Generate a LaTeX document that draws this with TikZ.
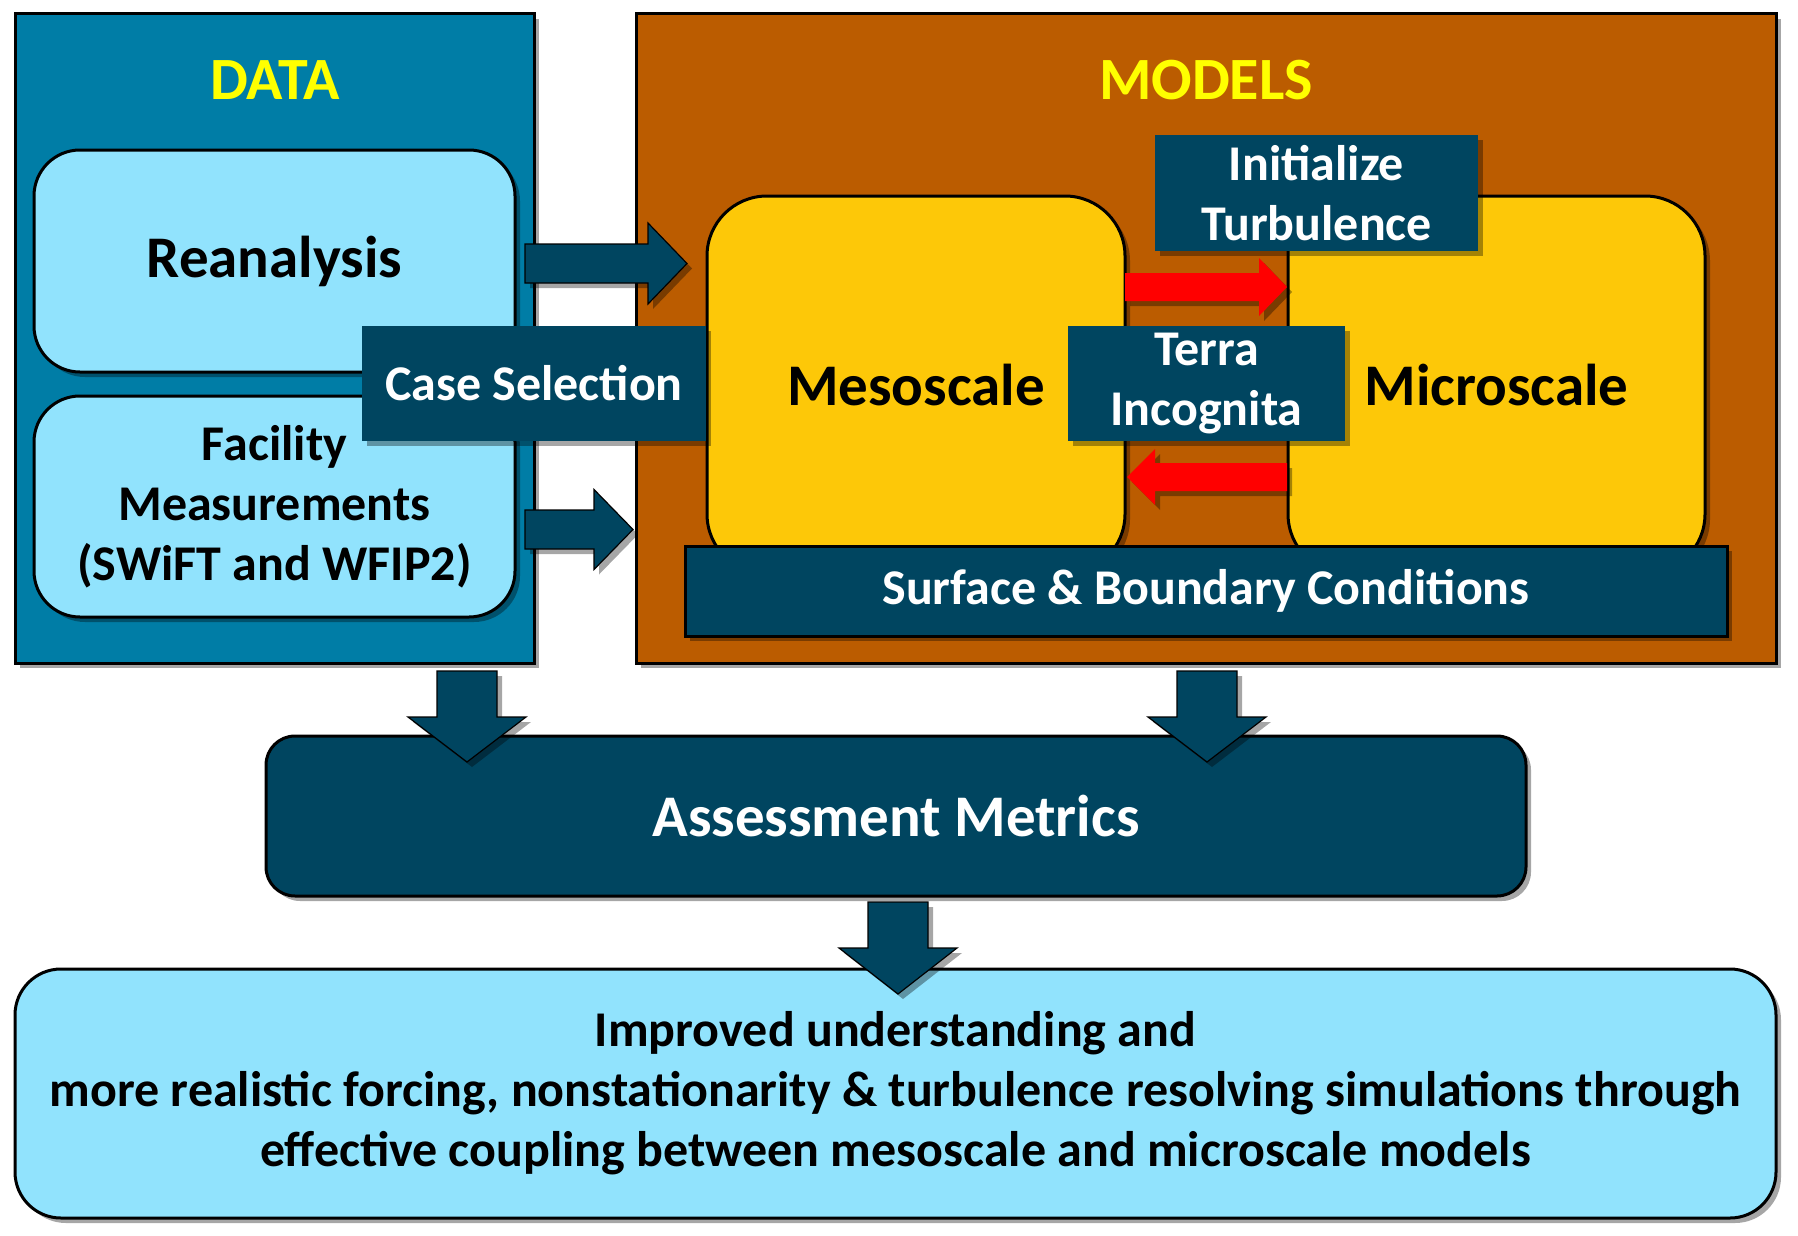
\documentclass[tikz,border=0pt]{standalone}
\usepackage{fontspec}
\setmainfont{Carlito}
\usepackage{tikz}
\usetikzlibrary{positioning,calc,shadows}

\definecolor{datablue}{RGB}{0,125,166}
\definecolor{modelorange}{RGB}{187,92,0}
\definecolor{skycyan}{RGB}{145,227,253}
\definecolor{darknavy}{RGB}{0,69,96}
\definecolor{scaleyellow}{RGB}{253,200,8}
\definecolor{titleyellow}{RGB}{255,255,0}
\definecolor{flowred}{RGB}{255,0,0}

\newcommand{\bigtxt}{\fontsize{59}{70}\selectfont}
\newcommand{\midtxt}{\fontsize{50}{60}\selectfont}
\newcommand{\titletxt}{\fontsize{60}{70}\selectfont}

\tikzset{
  softshadow/.style={drop shadow={shadow xshift=5pt, shadow yshift=-5pt, opacity=0.35, fill=black}},
  panel/.style={draw=black, line width=3pt, inner sep=0pt, softshadow},
  softbox/.style={panel, fill=skycyan, rounded corners=46pt, align=center, font=\bfseries\midtxt},
  scalebox/.style={panel, fill=scaleyellow, rounded corners=60pt, font=\bfseries\bigtxt},
  darkbox/.style={fill=darknavy, text=white, inner sep=0pt, align=center, font=\bfseries\midtxt, softshadow},
  navyarrow/.style={fill=darknavy, draw=black, line width=1.2pt, softshadow},
  redarrow/.style={fill=flowred, softshadow},
}

% block arrow: [style]{start}{end}{shaft half width}{head half width}{head length}
\newcommand{\fatarrow}[6][]{%
  \coordinate (fa-h) at ($(#3)!#6pt!(#2)$);
  \path[#1] ($(#2)!#4pt!90:(#3)$) -- ($(fa-h)!#4pt!-90:(#2)$) -- ($(fa-h)!#5pt!-90:(#2)$) -- (#3)
    -- ($(fa-h)!#5pt!90:(#2)$) -- ($(fa-h)!#4pt!90:(#2)$) -- ($(#2)!#4pt!-90:(#3)$) -- cycle;
}

\begin{document}
\begin{tikzpicture}[x=1pt, y=-1pt]
  \useasboundingbox (0,0) rectangle (1798,1236);

  % panels
  \node[panel, fill=datablue, minimum width=519, minimum height=649] (data) at (274.5,338.5) {};
  \node[panel, fill=modelorange, minimum width=1140, minimum height=649] (models) at (1206,338.5) {};
  \node[font=\bfseries\titletxt, text=titleyellow] (datatitle) at (275,80) {DATA};
  \node[font=\bfseries\titletxt, text=titleyellow] (modeltitle) at (1206,80) {MODELS};

  % data sources
  \node[softbox, font=\bfseries\bigtxt, minimum width=481, minimum height=222] (reana) at (274.5,261) {Reanalysis};
  \node[softbox, minimum width=481, minimum height=221] (facil) at (274.5,506.5) {Facility\\Measurements\\(SWiFT and WFIP2)};

  \coordinate (a1s) at (525,263.5);
  \coordinate (a1e) at (687,263.5);
  \coordinate (a2s) at (525,529.5);
  \coordinate (a2e) at (633,529.5);
  \fatarrow[navyarrow]{a1s}{a1e}{19.5}{40.5}{39}
  \fatarrow[navyarrow]{a2s}{a2e}{19.5}{40}{39}

  % models
  \node[scalebox, minimum width=418, minimum height=378] (meso) at (916,385) {Mesoscale};
  \node[scalebox, minimum width=417, minimum height=378] (micro) at (1496.5,385) {Microscale};

  \coordinate (r1s) at (1125,287);
  \coordinate (r1e) at (1287,287);
  \coordinate (r2s) at (1287,477);
  \coordinate (r2e) at (1127,477);
  \fatarrow[redarrow]{r1s}{r1e}{14}{29}{28}
  \fatarrow[redarrow]{r2s}{r2e}{14}{28}{28}

  \node[darkbox, minimum width=323, minimum height=116] (init) at (1316.5,193) {Initialize\\Turbulence};
  \node[darkbox, minimum width=277, minimum height=115] (terra) at (1206.5,383.5) {Terra\\Incognita};
  \node[darkbox, draw=black, line width=3pt, minimum width=1042, minimum height=90] (surf) at (1206,591) {Surface \& Boundary Conditions};
  \node[darkbox, minimum width=344, minimum height=115] (casesel) at (534,383.5) {Case Selection};

  % assessment and outcome
  \node[darkbox, draw=black, line width=3pt, rounded corners=29pt, font=\bfseries\bigtxt, minimum width=1260, minimum height=160] (assess) at (896,816) {Assessment Metrics};
  \node[softbox, minimum width=1761, minimum height=249] (outcome) at (895.5,1093.5) {Improved understanding and\\more realistic forcing, nonstationarity \& turbulence resolving simulations through\\effective coupling between mesoscale and microscale models};

  \coordinate (d1s) at (467,671);
  \coordinate (d1e) at (467,762);
  \coordinate (d2s) at (1207,671);
  \coordinate (d2e) at (1207,762);
  \coordinate (d3s) at (898,902);
  \coordinate (d3e) at (898,994);
  \fatarrow[navyarrow]{d1s}{d1e}{30}{59}{45}
  \fatarrow[navyarrow]{d2s}{d2e}{30}{59}{45}
  \fatarrow[navyarrow]{d3s}{d3e}{30}{59}{46}
\end{tikzpicture}
\end{document}
